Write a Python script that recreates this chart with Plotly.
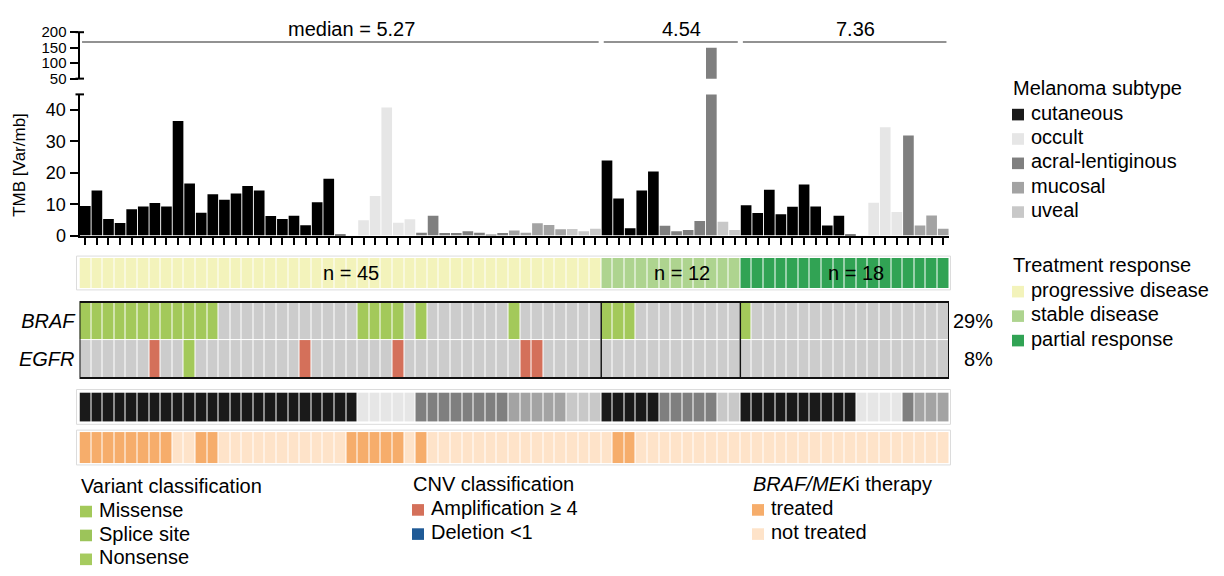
import numpy as np
import plotly.graph_objects as go

W, H = 1224, 576
FONT = "Liberation Sans, Arial, sans-serif"

# ---- per-sample data (75 patients, ordered by response group) ----
tmb = [
    9.4, 14.4, 5.27, 4.0, 8.4, 9.3, 10.4, 9.3, 36.5, 16.6, 7.3, 13.2, 11.4, 13.4, 15.8,
    14.4, 6.2, 5.3, 6.3, 3.3, 10.6, 18.1, 0.3, 0.0, 4.9, 12.6, 40.8, 4.1, 5.2, 0.9,
    6.3, 0.8, 0.8, 1.4, 0.9, 0.3, 0.8, 1.6, 0.9, 3.9, 3.4, 2.0, 2.1, 1.4, 2.2,
    23.9, 11.8, 2.3, 14.4, 20.4, 3.1, 1.4, 1.8, 4.68, 150.0, 4.40, 1.8,
    9.7, 7.2, 14.6, 6.8, 9.2, 16.3, 9.3, 3.2, 6.3, 0.3, 0.0, 10.5, 34.5, 7.52, 31.9,
    3.2, 6.4, 2.2,
]
# C cutaneous, O occult, A acral-lentiginous, M mucosal, U uveal
subtype = list("CCCCCCCCCCCCCCCCCCCCCCCCOOOOOAAAAAAAAMMMMMUUU"
               "CCCCCAAAAAUU"
               "CCCCCCCCCCOOOOAMMM")
# P progressive disease, S stable disease, R partial response
response = list("P" * 45 + "S" * 12 + "R" * 18)
# BRAF / EGFR alterations: . none, m missense, a amplification
braf = list("mmmmmmmmmmmm............mmmm.m.......m......."
            "mmm........."
            "m.................")
egfr = list("......a..m.........a.......a..........aa....."
            "............"
            "..................")
# BRAF/MEK inhibitor therapy: T treated, N not treated
therapy = list("TTTTTTTTNNTTNNNNNNNNNNNTTTTTNTNNNNNNNNNNNNNNN"
               "NTTNNNNNNNNN"
               "NNNNNNNNNNNNNNNNNN")

subtype_names = {"C": "cutaneous", "O": "occult", "A": "acral-lentiginous",
                 "M": "mucosal", "U": "uveal"}
subtype_order = ["C", "O", "A", "M", "U"]
subtype_strip_colors = {"C": "#1a1a1a", "O": "#e6e6e6", "A": "#7f7f7f",
                        "M": "#a3a3a3", "U": "#c8c8c8"}
subtype_bar_colors = {"C": "#000000", "O": "#e6e6e6", "A": "#7f7f7f",
                      "M": "#a3a3a3", "U": "#c8c8c8"}
response_order = ["P", "S", "R"]
response_names = {"P": "progressive disease", "S": "stable disease", "R": "partial response"}
response_colors = {"P": "#f3f3bb", "S": "#aed48f", "R": "#31a354"}
alt_order = [".", "m", "a"]
alt_colors = {".": "#cccccc", "m": "#a3c95a", "a": "#d4705a"}
therapy_order = ["T", "N"]
therapy_names = {"T": "treated", "N": "not treated"}
therapy_colors = {"T": "#f6ad6b", "N": "#fee3c9"}

n = len(tmb)
idx = list(range(n))


def px_x(p):
    return p / W


def px_y(p):
    return 1 - p / H


def discrete_scale(colors):
    k = len(colors)
    scale = []
    for i, c in enumerate(colors):
        scale.append([i / k, c])
        scale.append([(i + 1) / k, c])
    return scale


def strip(codes, order, cmap, yaxis):
    z = [[order.index(c) for c in codes]]
    return go.Heatmap(
        x=idx, y=[0], z=z, xaxis="x", yaxis=yaxis,
        colorscale=discrete_scale([cmap[c] for c in order]),
        zmin=-0.5, zmax=len(order) - 0.5, showscale=False, xgap=1,
        hoverinfo="skip",
    )


fig = go.Figure()

bar_cols = [subtype_bar_colors[s] for s in subtype]
for ya in ("y", "y2"):
    fig.add_trace(go.Bar(x=idx, y=tmb, marker=dict(color=bar_cols, line=dict(width=0)),
                         xaxis="x", yaxis=ya, showlegend=False, hoverinfo="skip"))

fig.add_trace(strip(response, response_order, response_colors, "y3"))
fig.add_trace(go.Heatmap(
    x=idx, y=[0, 1],
    z=[[alt_order.index(c) for c in braf], [alt_order.index(c) for c in egfr]],
    xaxis="x", yaxis="y4", colorscale=discrete_scale([alt_colors[c] for c in alt_order]),
    zmin=-0.5, zmax=len(alt_order) - 0.5, showscale=False, xgap=1, ygap=1,
    hoverinfo="skip",
))
fig.add_trace(strip(subtype, subtype_order, subtype_strip_colors, "y5"))
fig.add_trace(strip(therapy, therapy_order, therapy_colors, "y6"))

x_dom = [px_x(79.5), px_x(949)]
hidden = dict(showgrid=False, zeroline=False, showticklabels=False, ticks="",
              showline=False, anchor="x", fixedrange=True)

fig.update_layout(
    width=W, height=H, margin=dict(l=0, r=0, t=0, b=0),
    paper_bgcolor="white", plot_bgcolor="white", showlegend=False,
    bargap=0.08, font=dict(family=FONT, color="#000"),
    xaxis=dict(domain=x_dom, range=[-0.5, n - 0.5], anchor="y",
               showline=True, linecolor="#000", linewidth=2,
               ticks="outside", tickvals=idx, ticklen=7, tickwidth=2, tickcolor="#000",
               showticklabels=False, showgrid=False, zeroline=False),
    yaxis=dict(domain=[px_y(234.3), px_y(88.3)], range=[0, 45], anchor="x",
               tickvals=[0, 10, 20, 30, 40], showline=True, linecolor="#000", linewidth=2,
               ticks="outside", ticklen=8, tickwidth=2, tickcolor="#000",
               tickfont=dict(family=FONT, size=18, color="#000"),
               showgrid=False, zeroline=False,
               title=dict(text="TMB [Var/mb]", font=dict(family=FONT, size=17), standoff=16)),
    yaxis2=dict(domain=[px_y(72), px_y(24)], range=[50, 200], anchor="x",
                tickvals=[50, 100, 150, 200], showline=True, linecolor="#000", linewidth=2,
                ticks="outside", ticklen=8, tickwidth=2, tickcolor="#000",
                tickfont=dict(family=FONT, size=15, color="#000"),
                showgrid=False, zeroline=False),
    yaxis3=dict(domain=[px_y(288.5), px_y(257.5)], range=[-0.5, 0.5], **hidden),
    yaxis4=dict(domain=[px_y(381.5), px_y(303)], range=[1.5, -0.5], anchor="x",
                tickvals=[0, 1], ticktext=["<i>BRAF</i>", "<i>EGFR</i>"],
                tickfont=dict(family=FONT, size=20), ticks="", showgrid=False,
                zeroline=False, showline=False, ticklabelstandoff=4),
    yaxis5=dict(domain=[px_y(427), px_y(396.5)], range=[-0.5, 0.5], **hidden),
    yaxis6=dict(domain=[px_y(470), px_y(437.5)], range=[-0.5, 0.5], **hidden),
)

shapes = []
annotations = []

# group boundaries from the response order
groups = []
start = 0
for r in response_order:
    cnt = response.count(r)
    groups.append((r, start, start + cnt - 1))
    start += cnt

# median TMB per response group
for r, a, b in groups:
    med = float(np.median(tmb[a:b + 1]))
    shapes.append(dict(type="line", xref="x", yref="paper", x0=a - 0.5 + 0.22, x1=b + 0.5 - 0.22,
                       y0=px_y(34), y1=px_y(34), line=dict(color="#6e6e6e", width=1.5)))
    label = f"median = {med:.2f}" if a == 0 else f"{med:.2f}"
    annotations.append(dict(text=label, xref="x", yref="paper", x=(a + b) / 2, y=px_y(21),
                            xshift=11, showarrow=False, yanchor="middle",
                            font=dict(size=20, family=FONT)))
    annotations.append(dict(text=f"n = {b - a + 1}", xref="x", yref="y3 domain", x=(a + b) / 2,
                            y=0.5, xshift=11, showarrow=False, yanchor="middle",
                            font=dict(size=20, family=FONT)))

# axis break caps
for yy in (88.3, 72, 24):
    shapes.append(dict(type="line", xref="paper", yref="paper", x0=px_x(75.5), x1=px_x(84),
                       y0=px_y(yy), y1=px_y(yy), line=dict(color="#000", width=2)))

# light frames around the annotation strips
for top, bot in ((255.5, 290.5), (393.5, 429.5), (435.5, 471.5)):
    shapes.append(dict(type="rect", xref="paper", yref="paper", x0=px_x(76.5), x1=px_x(950.5),
                       y0=px_y(bot), y1=px_y(top), line=dict(color="#dcdcdc", width=1)))

# alteration panel frame and group separators
shapes.append(dict(type="rect", xref="x", yref="y4 domain", x0=-0.5, x1=n - 0.5, y0=0, y1=1,
                   line=dict(color="#111", width=2)))
for r, a, b in groups[:-1]:
    shapes.append(dict(type="line", xref="x", yref="y4 domain", x0=b + 0.5, x1=b + 0.5,
                       y0=0, y1=1, line=dict(color="#111", width=1.5)))

# alteration frequencies
for row, codes in enumerate((braf, egfr)):
    pct = round(100 * sum(c != "." for c in codes) / n)
    annotations.append(dict(text=f"{pct}%", xref="paper", yref="y4", x=px_x(995), y=row,
                            xanchor="right", yanchor="middle", showarrow=False,
                            font=dict(size=20, family=FONT)))


def legend_block(x0, y_title, title, items, step):
    annotations.append(dict(text=title, xref="paper", yref="paper", x=px_x(x0 - 1), y=px_y(y_title),
                            xanchor="left", yanchor="middle", showarrow=False,
                            font=dict(size=20, family=FONT)))
    for k, (label, color) in enumerate(items):
        yc = y_title + step * (k + 1)
        shapes.append(dict(type="rect", xref="paper", yref="paper", x0=px_x(x0), x1=px_x(x0 + 12),
                           y0=px_y(yc + 8), y1=px_y(yc - 4), fillcolor=color,
                           line=dict(width=0)))
        annotations.append(dict(text=label, xref="paper", yref="paper", x=px_x(x0 + 17), y=px_y(yc),
                                xanchor="left", yanchor="middle", showarrow=False,
                                font=dict(size=20, family=FONT)))


legend_block(1012, 82, "Melanoma subtype",
             [(subtype_names[s], subtype_strip_colors[s]) for s in subtype_order], 25.2)
legend_block(1012, 265, "Treatment response",
             [(response_names[r], response_colors[r]) for r in response_order], 25.3)
legend_block(80, 493, "Variant classification",
             [("Missense", alt_colors["m"]), ("Splice site", "#9cc45a"), ("Nonsense", "#a6cb5f")], 24.7)
legend_block(412, 491, "CNV classification",
             [("Amplification \u2265 4", alt_colors["a"]), ("Deletion &lt;1", "#1f5a96")], 25)
legend_block(752, 491, "<i>BRAF/MEK</i>i therapy",
             [(therapy_names[t], therapy_colors[t]) for t in therapy_order], 25)

fig.update_layout(shapes=shapes, annotations=annotations)
fig.write_html("out.html")
